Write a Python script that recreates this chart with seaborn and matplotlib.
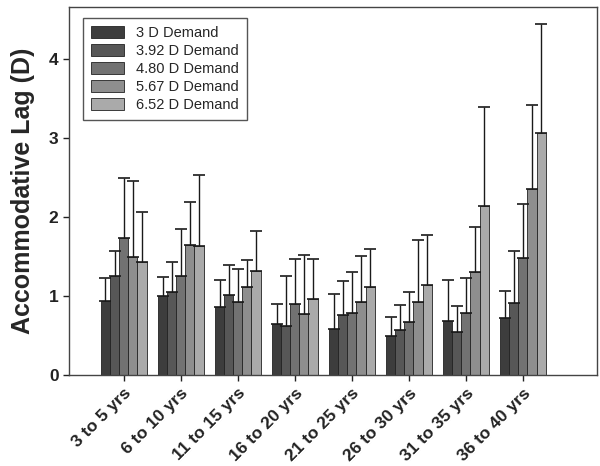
import pandas as pd
import seaborn as sns
import matplotlib.pyplot as plt
import numpy as np

# age groups on the x axis
age_groups = ["3 to 5 yrs", "6 to 10 yrs", "11 to 15 yrs", "16 to 20 yrs",
              "21 to 25 yrs", "26 to 30 yrs", "31 to 35 yrs", "36 to 40 yrs"]
demands = ["3 D Demand", "3.92 D Demand", "4.80 D Demand", "5.67 D Demand", "6.52 D Demand"]

# mean accommodative lag (D) per demand, one value per age group
lag_3d = [0.94, 1.00, 0.86, 0.65, 0.58, 0.49, 0.69, 0.72]
lag_392d = [1.26, 1.05, 1.02, 0.62, 0.76, 0.57, 0.55, 0.91]
lag_480d = [1.73, 1.26, 0.93, 0.90, 0.79, 0.67, 0.79, 1.48]
lag_567d = [1.49, 1.65, 1.12, 0.78, 0.93, 0.92, 1.31, 2.35]
lag_652d = [1.43, 1.63, 1.32, 0.96, 1.11, 1.14, 2.14, 3.07]

# standard deviations (upper error bars only)
sd_3d = [0.29, 0.24, 0.35, 0.25, 0.45, 0.25, 0.51, 0.35]
sd_392d = [0.31, 0.38, 0.38, 0.64, 0.43, 0.32, 0.33, 0.66]
sd_480d = [0.77, 0.59, 0.41, 0.57, 0.52, 0.38, 0.44, 0.69]
sd_567d = [0.97, 0.54, 0.34, 0.74, 0.58, 0.79, 0.57, 1.07]
sd_652d = [0.64, 0.90, 0.50, 0.51, 0.49, 0.63, 1.26, 1.37]

colors = ["#3d3d3d", "#575757", "#727272", "#8e8e8e", "#aaaaaa"]


def main():
    means = [lag_3d, lag_392d, lag_480d, lag_567d, lag_652d]
    sds = [sd_3d, sd_392d, sd_480d, sd_567d, sd_652d]
    df = pd.DataFrame({
        "age": np.tile(age_groups, len(demands)),
        "demand": np.repeat(demands, len(age_groups)),
        "lag": np.concatenate(means),
        "sd": np.concatenate(sds),
    })

    sns.set_style("ticks")
    plt.rcParams["font.family"] = ["Liberation Sans", "DejaVu Sans"]

    fig = plt.figure(figsize=(6, 4.66), dpi=100)
    ax = fig.add_axes([0.115, 0.195, 0.88, 0.79])

    sns.barplot(data=df, x="age", y="lag", hue="demand", order=age_groups,
                hue_order=demands, palette=colors, errorbar=None, width=0.8,
                edgecolor="#222222", linewidth=0.6, saturation=1, ax=ax)

    # upper error bars, placed on the bar patches seaborn drew
    for bars, (name, grp) in zip(ax.containers, df.groupby("demand", sort=False)):
        xs = [b.get_x() + b.get_width() / 2 for b in bars]
        ys = grp["lag"].values
        err = grp["sd"].values
        ax.errorbar(xs, ys, yerr=[np.zeros_like(err), err], fmt="none",
                    ecolor="#1a1a1a", elinewidth=1.0, capsize=4, capthick=1.2)

    ax.set_xlim(-0.96, 8.3)
    ax.set_ylim(0, 4.66)
    ax.set_yticks([0, 1, 2, 3, 4])
    ax.set_xlabel("")
    ax.set_ylabel("Accommodative Lag (D)", fontsize=18, fontweight="bold", labelpad=10)
    ax.tick_params(axis="y", labelsize=12.5, width=1, length=4, colors="#222222")
    ax.tick_params(axis="x", labelsize=12.5, width=1, length=4, colors="#222222")
    for lbl in ax.get_yticklabels():
        lbl.set_fontweight("bold")
    plt.setp(ax.get_xticklabels(), rotation=45, ha="right", rotation_mode="anchor",
             fontweight="bold")
    for s in ax.spines.values():
        s.set_visible(True)
        s.set_color("#444444")
        s.set_linewidth(1)

    leg = ax.legend(loc="upper left", bbox_to_anchor=(0.012, 0.99), fontsize=10.5,
                    handlelength=2.3, handleheight=0.85, labelspacing=0.28,
                    borderpad=0.55, fancybox=False, framealpha=1,
                    edgecolor="#555555", title=None)
    leg.get_frame().set_linewidth(1)

    plt.savefig("out.png", dpi=100)


if __name__ == "__main__":
    main()
